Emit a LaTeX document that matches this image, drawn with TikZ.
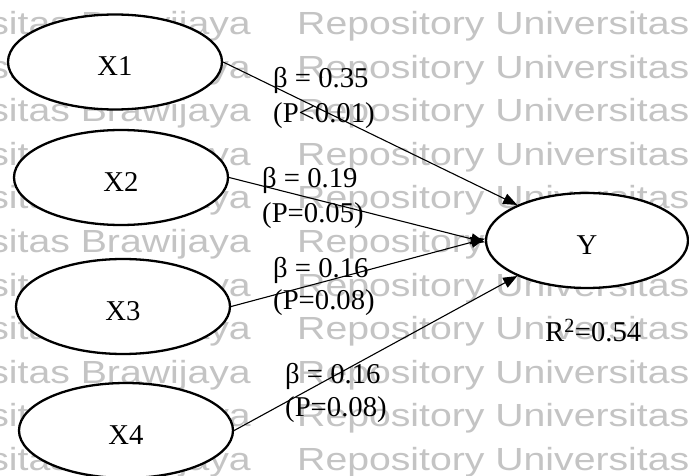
\documentclass[tikz,border=0pt]{standalone}
\usepackage{fontspec}
\setmainfont{Liberation Serif}
\newfontfamily\wmfont{Liberation Sans}
\usetikzlibrary{shapes.geometric,arrows.meta}

\tikzset{
  latent/.style={ellipse, draw, line width=2.3pt, fill=white, inner sep=0pt,
    minimum width=214pt, minimum height=95pt,
    font=\fontsize{28.7}{34}\selectfont, text height=28pt, text depth=0pt},
  conn/.style={line width=1.1pt, -{Triangle[length=14pt,width=11pt]}},
  elab/.style={font=\fontsize{28.7}{34}\selectfont, inner sep=0pt, anchor=base west},
  wm/.style={font=\wmfont\fontsize{32}{38}\selectfont, text=black!23, inner sep=0pt}
}

\begin{document}
\begin{tikzpicture}[x=1pt,y=-1pt]
\useasboundingbox (0,0) rectangle (689,476);
\fill[white] (0,0) rectangle (689,476);

% repository watermark rows
\begin{scope}
  \clip (0,0) rectangle (689,476);
  \foreach \k in {-1,...,10}{
    \node[wm, anchor=base east] (wl\k) at (251,{35+43.5*\k})
      {\scalebox{1.225}[1]{Universitas Brawijaya}};
    \node[wm, anchor=base west] (wr\k) at (297,{35+43.5*\k})
      {\scalebox{1.225}[1]{Repository Universitas Brawijaya}};
  }
\end{scope}

% latent variables
\node[latent] (X1) at (115,62)    {X1};
\node[latent] (X2) at (121,177.5) {X2};
\node[latent] (X3) at (123,306.5) {X3};
\node[latent] (X4) at (126,430.5) {X4};
\node[latent, minimum width=202pt] (Y) at (587,240.5) {Y};

% paths
\draw[conn] (X1.east) -- (Y.153);
\draw[conn] (X2.east) -- (Y.181);
\draw[conn] (X3.east) -- (Y.179);
\draw[conn] (X4.east) -- (Y.207);

% path coefficients
\node[elab] (b1) at (273,87.7)  {β = 0.35};
\node[elab] (p1) at (273,122.7) {(P<0.01)};
\node[elab] (b2) at (262,187.7) {β = 0.19};
\node[elab] (p2) at (262,222.7) {(P=0.05)};
\node[elab] (b3) at (273,277.7) {β = 0.16};
\node[elab] (p3) at (273,309.7) {(P=0.08)};
\node[elab] (b4) at (285,383.7) {β = 0.16};
\node[elab] (p4) at (285,416.7) {(P=0.08)};

% explained variance
\node[elab] (r2) at (545,341.7) {R\textsuperscript{2}=0.54};
\end{tikzpicture}
\end{document}
